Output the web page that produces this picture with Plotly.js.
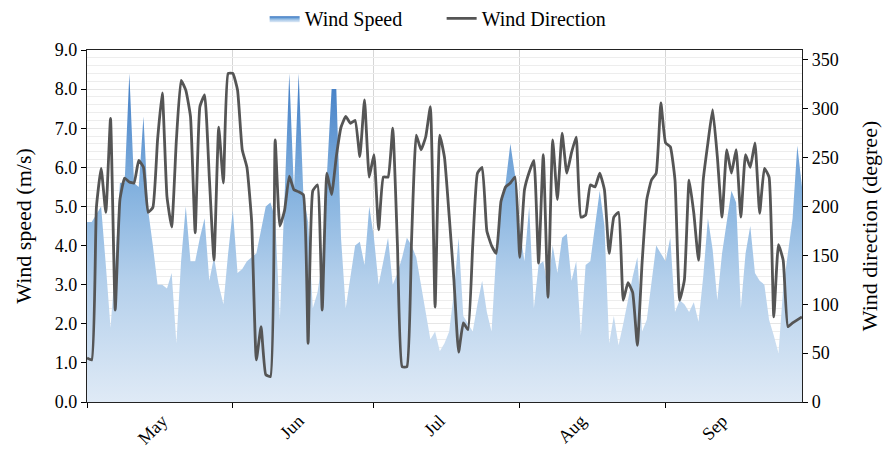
<!DOCTYPE html>
<html>
<head>
<meta charset="utf-8">
<script src="https://cdn.plot.ly/plotly-3.0.1.min.js"></script>
<style>html,body{margin:0;padding:0;background:#fff;}#chart{width:889px;height:452px;}</style>
</head>
<body>
<div id="chart"></div>
<script>
// Daily series, 1 May to 30 Sep
const startDate = '2023-05-01';
const windSpeed = [
4.6,4.6,4.8,5.0,3.5,1.9,3.5,5.6,5.6,8.4,5.6,5.5,7.3,4.9,4.0,3.0,3.0,2.9,3.3,1.5,
3.6,5.0,3.6,3.6,4.2,4.7,3.1,3.7,3.0,2.5,3.8,
4.9,3.3,3.4,3.6,3.7,3.8,4.4,5.0,5.1,4.7,2.1,5.2,8.4,5.4,8.4,5.3,4.6,2.4,2.8,3.6,
5.9,8.0,8.0,4.2,2.4,3.2,4.0,4.1,3.5,5.0,
4.2,3.0,3.6,4.2,3.0,3.3,3.7,4.2,4.0,3.7,3.0,2.3,1.6,1.8,1.3,1.5,1.8,2.8,4.2,2.2,
2.0,1.8,2.5,3.1,2.3,1.8,3.8,5.0,5.6,6.6,5.8,
4.4,3.6,5.0,2.4,3.5,3.6,2.9,4.0,3.3,4.2,4.3,3.1,3.6,1.7,3.5,3.6,4.5,5.4,4.5,1.5,
2.2,1.45,2.0,2.6,3.2,3.7,1.8,2.1,3.0,4.0,3.8,
3.6,4.2,2.3,2.6,2.5,2.3,2.55,2.05,3.2,4.7,3.9,2.6,3.8,4.6,5.4,5.1,2.4,3.8,4.5,3.3,
3.1,3.0,2.1,1.7,1.25,2.9,3.8,4.7,6.55,5.5
];
const windDirection = [
45,43,199,239,194,290,94,207,229,225,224,247,240,194,199,268,316,210,179,268,
329,319,292,173,302,314,230,145,281,224,336,
336,319,258,240,185,43,77,28,26,268,180,196,231,217,215,212,60,216,222,94,
234,212,251,281,292,285,288,251,309,230,
253,176,230,230,280,160,36,36,166,273,258,271,302,97,273,250,190,125,51,81,
74,160,234,240,175,160,152,205,220,224,230,
148,217,235,247,142,253,107,268,207,275,234,255,271,189,191,222,220,234,217,152,
189,194,104,122,112,58,142,207,227,234,306,
265,261,227,104,125,227,193,145,227,265,299,251,189,258,234,258,189,253,240,265,
193,239,230,87,161,145,77,81,84,87
];
const seriesNames = ['Wind Speed', 'Wind Direction'];
const monthStarts = ['2023-05-01','2023-06-01','2023-07-01','2023-08-01','2023-09-01'];
const monthLabelDates = ['2023-05-17','2023-06-15','2023-07-15','2023-08-14','2023-09-13'];
const monthLabels = ['May','Jun','Jul','Aug','Sep'];

const dates = [];
{
  const d0 = new Date(startDate + 'T00:00:00Z');
  for (let i = 0; i < windSpeed.length; i++) {
    const d = new Date(d0.getTime() + i * 86400000);
    dates.push(d.toISOString().slice(0, 10));
  }
}

const FONT = 'Liberation Serif, Times New Roman, serif';

const traces = [
  {
    x: dates, y: windSpeed, name: seriesNames[0], type: 'scatter', mode: 'lines',
    line: {width: 0, color: '#4a88cc'},
    fill: 'tozeroy',
    fillgradient: {
      type: 'vertical', start: 0, stop: 9,
      colorscale: [[0, '#dfeaf6'], [0.35, '#b3cfeb'], [0.6, '#84b2df'], [1, '#3271bf']]
    },
    xaxis: 'x', yaxis: 'y', hoverinfo: 'skip'
  },
  {
    x: dates, y: windDirection, name: seriesNames[1], type: 'scatter', mode: 'lines',
    line: {width: 2.8, color: '#555555', shape: 'spline', smoothing: 0.4},
    xaxis: 'x', yaxis: 'y2', hoverinfo: 'skip'
  }
];

const layout = {
  width: 889, height: 452,
  margin: {l: 87, r: 87, t: 50, b: 50, autoexpand: false},
  paper_bgcolor: '#ffffff', plot_bgcolor: '#ffffff',
  font: {family: FONT, size: 18, color: '#000'},
  showlegend: true,
  legend: {orientation: 'h', x: 0.496, xanchor: 'center', y: 1.09, yanchor: 'middle',
           yref: 'paper', font: {family: FONT, size: 20, color: '#000'},
           entrywidth: 132, entrywidthmode: 'pixels',
           traceorder: 'normal', bgcolor: 'rgba(0,0,0,0)'},
  xaxis: {
    type: 'date', range: ['2023-05-01', '2023-09-30'],
    tickmode: 'array', tickvals: monthLabelDates, ticktext: monthLabels,
    tickangle: -45, ticks: '', ticklen: 0,
    showline: true, linecolor: '#222', linewidth: 1.2, mirror: true,
    showgrid: false,
    minor: {tickmode: 'array', tickvals: monthStarts, ticks: 'outside', ticklen: 5,
            tickcolor: '#000', showgrid: true, gridcolor: '#d6d6d6', gridwidth: 1},
    tickfont: {family: FONT, size: 18, color: '#000'},
    zeroline: false
  },
  yaxis: {
    range: [0, 9], dtick: 1, tick0: 0, tickformat: '.1f',
    ticks: 'outside', ticklen: 5, tickcolor: '#000',
    showline: true, linecolor: '#222', linewidth: 1.2,
    showgrid: true, gridcolor: '#e6e6e6', gridwidth: 1,
    minor: {dtick: 0.2, showgrid: true, gridcolor: '#ededed', gridwidth: 1},
    zeroline: false,
    tickfont: {family: FONT, size: 18, color: '#000'},
    title: {text: 'Wind speed (m/s)', font: {family: FONT, size: 22, color: '#000'}, standoff: 17}
  },
  yaxis2: {
    range: [0, 360], tickvals: [0,50,100,150,200,250,300,350],
    overlaying: 'y', side: 'right',
    ticks: 'outside', ticklen: 5, tickcolor: '#000',
    showline: true, linecolor: '#222', linewidth: 1.2,
    showgrid: false, zeroline: false,
    tickfont: {family: FONT, size: 18, color: '#000'},
    title: {text: 'Wind direction (degree)', font: {family: FONT, size: 22, color: '#000'}, standoff: 23}
  }
};

Plotly.newPlot('chart', traces, layout, {staticPlot: true, displayModeBar: false});
</script>
</body>
</html>
